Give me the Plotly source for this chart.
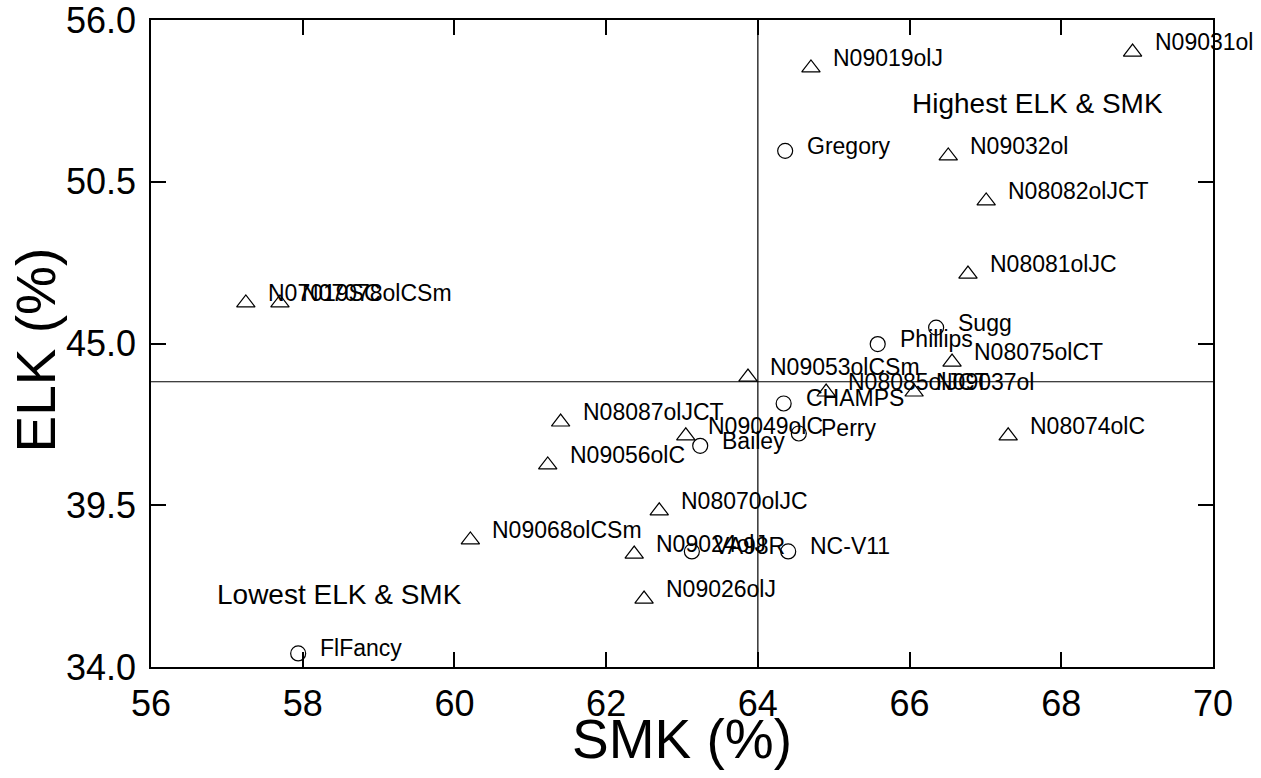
import plotly.graph_objects as go

FONT = "Liberation Sans, Arial, sans-serif"

# Breeding lines (triangles)
line_names = ["N09031ol", "N09019olJ", "N09032ol", "N08082olJCT", "N08081olJC",
              "N07019SC", "N07078olCSm", "N08075olCT", "N09053olCSm", "N08085olJCT",
              "N09037ol", "N08087olJCT", "N09049olC", "N09056olC", "N08074olC",
              "N08070olJC", "N09068olCSm", "N09024olJ", "N09026olJ"]
line_smk = [68.94, 64.70, 66.51, 67.01, 66.77,
            57.25, 57.70, 66.56, 63.87, 64.90,
            66.06, 61.40, 63.05, 61.23, 67.30,
            62.70, 60.21, 62.37, 62.50]
line_elk = [54.91, 54.37, 51.38, 49.85, 47.36,
            46.38, 46.38, 44.37, 43.86, 43.35,
            43.35, 42.33, 41.86, 40.87, 41.86,
            39.31, 38.32, 37.84, 36.31]

# Check cultivars (circles)
cult_names = ["Gregory", "Phillips", "Sugg", "CHAMPS", "Perry", "Bailey",
              "VA98R", "NC-V11", "FlFancy"]
cult_smk = [64.36, 65.58, 66.35, 64.34, 64.54, 63.24, 63.13, 64.40, 57.94]
cult_elk = [51.55, 44.98, 45.54, 42.96, 41.94, 41.52, 37.93, 37.93, 34.46]

# Reference lines
ref_smk = 64.0
ref_elk = 43.7

x_range = [56, 70]
y_range = [34, 56]
x_ticks = [56, 58, 60, 62, 64, 66, 68, 70]
y_ticks = [34.0, 39.5, 45.0, 50.5, 56.0]

fig = go.Figure()

fig.add_trace(go.Scatter(
    x=line_smk, y=line_elk, mode="markers", name="Lines",
    marker=dict(symbol="triangle-up-open", size=16, color="black",
                line=dict(color="black", width=1.2)),
    cliponaxis=False, showlegend=False))

fig.add_trace(go.Scatter(
    x=cult_smk, y=cult_elk, mode="markers", name="Cultivars",
    marker=dict(symbol="circle-open", size=15, color="black",
                line=dict(color="black", width=1.2)),
    cliponaxis=False, showlegend=False))

annotations = []
for n, xv, yv in zip(line_names, line_smk, line_elk):
    annotations.append(dict(x=xv, y=yv, text=n, showarrow=False,
                            xanchor="left", yanchor="middle",
                            xshift=20, yshift=10,
                            font=dict(family=FONT, size=23, color="black")))
for n, xv, yv in zip(cult_names, cult_smk, cult_elk):
    annotations.append(dict(x=xv, y=yv, text=n, showarrow=False,
                            xanchor="left", yanchor="middle",
                            xshift=20, yshift=5,
                            font=dict(family=FONT, size=23, color="black")))

annotations.append(dict(x=66.0, y=53.15, text="Highest ELK & SMK", showarrow=False,
                        xanchor="left", yanchor="middle",
                        font=dict(family=FONT, size=28, color="black")))
annotations.append(dict(x=56.84, y=36.45, text="Lowest ELK & SMK", showarrow=False,
                        xanchor="left", yanchor="middle",
                        font=dict(family=FONT, size=28, color="black")))

# Axis titles
annotations.append(dict(x=0.5, y=0, xref="paper", yref="paper", text="SMK (%)",
                        showarrow=False, xanchor="center", yanchor="middle",
                        yshift=-72, font=dict(family=FONT, size=55, color="black")))
annotations.append(dict(x=0, y=0.5, xref="paper", yref="paper", text="ELK (%)",
                        showarrow=False, xanchor="center", yanchor="middle",
                        textangle=-90, xshift=-116, yshift=-7,
                        font=dict(family=FONT, size=55, color="black")))

fig.add_shape(type="line", x0=ref_smk, x1=ref_smk, y0=y_range[0], y1=y_range[1],
              xref="x", yref="y", line=dict(color="black", width=1.2))
fig.add_shape(type="line", x0=x_range[0], x1=x_range[1], y0=ref_elk, y1=ref_elk,
              xref="x", yref="y", line=dict(color="black", width=1.2))

axis_common = dict(showgrid=False, zeroline=False, showline=True, linecolor="black",
                   linewidth=1.5, mirror="ticks", ticks="inside", ticklen=15,
                   tickwidth=1.5, tickcolor="black", ticklabeloverflow="allow",
                   automargin=False,
                   tickfont=dict(family=FONT, size=36, color="black"))

fig.update_xaxes(range=[x_range[0] - 1e-4, x_range[1] + 1e-4], tickvals=x_ticks,
                 ticktext=[str(v) for v in x_ticks],
                 ticklabelstandoff=4, **axis_common)
fig.update_yaxes(range=[y_range[0] - 1e-4, y_range[1] + 1e-4], tickvals=y_ticks,
                 ticktext=[f"{v:.1f}" for v in y_ticks],
                 ticklabelstandoff=6, **axis_common)

fig.update_layout(
    width=1261, height=778,
    margin=dict(l=151, r=48, t=20, b=111, autoexpand=False),
    plot_bgcolor="white", paper_bgcolor="white",
    annotations=annotations,
    showlegend=False,
)

fig.write_html("out.html", config={"displayModeBar": False},
               post_script="document.body.style.margin='0';document.body.style.overflow='hidden';")
